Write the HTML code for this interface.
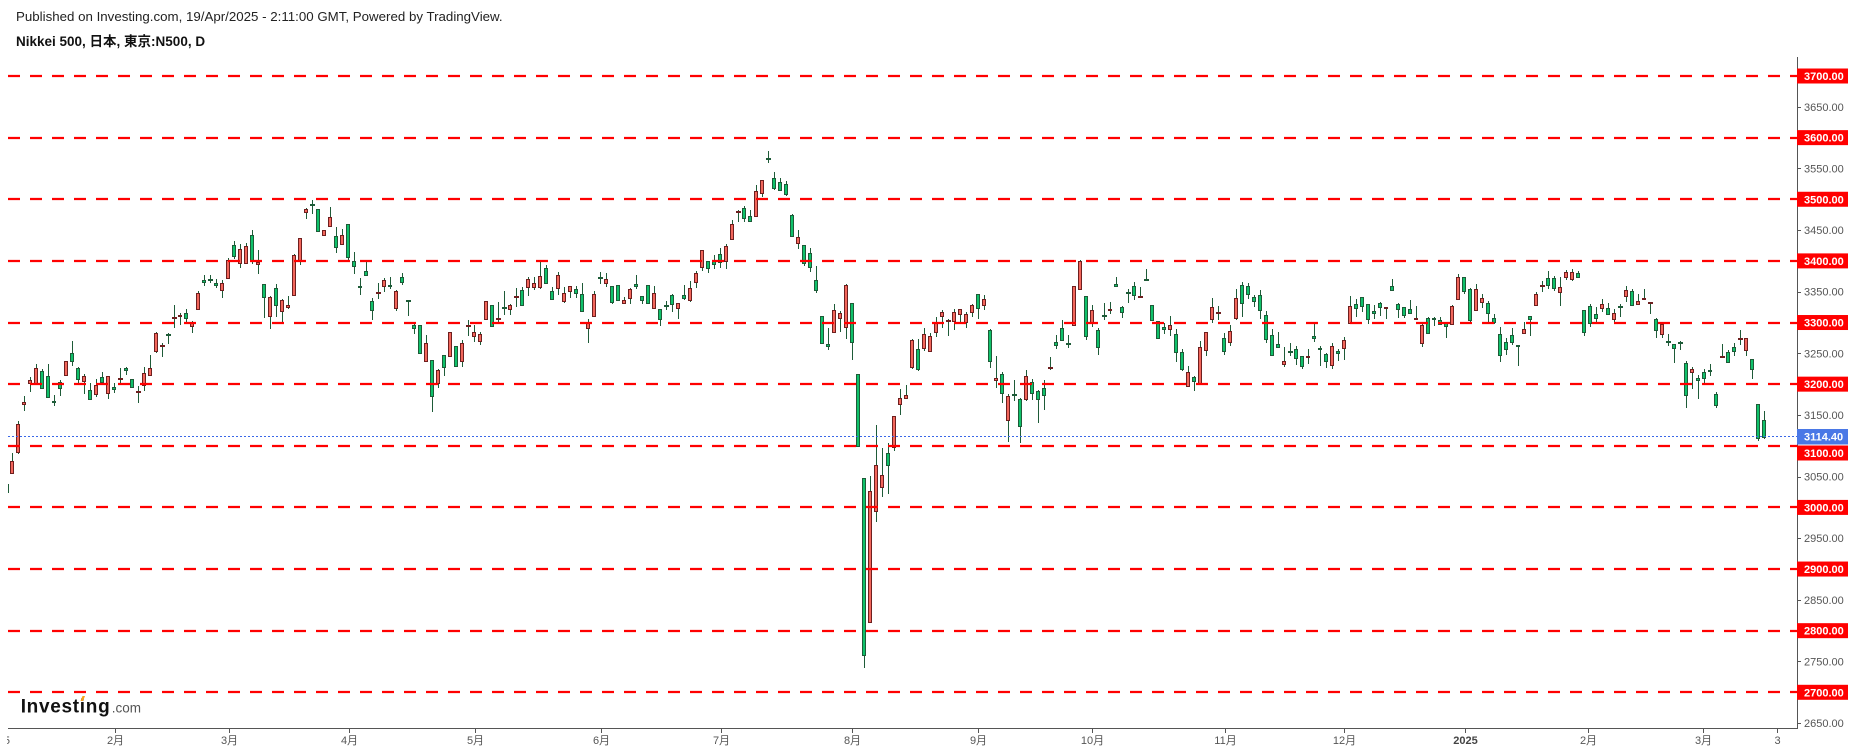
<!DOCTYPE html>
<html>
<head>
<meta charset="utf-8">
<style>
html,body{margin:0;padding:0;background:#fff;}
svg{display:block;}
text{font-family:"Liberation Sans","Noto Sans CJK JP",sans-serif;}
</style>
</head>
<body>
<svg id="s" width="1855" height="753" xmlns="http://www.w3.org/2000/svg">
<defs>
<clipPath id="pane"><rect x="8" y="50" width="1789" height="679"/></clipPath>
<clipPath id="lc"><rect x="7" y="730" width="10" height="20"/></clipPath>
</defs>
<rect width="1855" height="753" fill="#fff"/>
<text x="16" y="21" font-size="13.3" fill="#222">Published on Investing.com, 19/Apr/2025 - 2:11:00 GMT, Powered by TradingView.</text>
<text x="16" y="46" font-size="13.5" font-weight="bold" fill="#111">Nikkei 500, 日本, 東京:N500, D</text>
<g id="c" clip-path="url(#pane)"></g>
<g id="ln"></g>
<g id="ax"></g>
<text x="20.7" y="712.3" font-size="19" font-weight="bold" letter-spacing="0.7" fill="#111">Investing</text>
<polygon points="80.5,701 82.5,696 85,696 83,701" fill="#f7a21b"/>
<text x="111.7" y="712.3" font-size="13.5" fill="#555">.com</text>
<g clip-path="url(#lc)"><text x="10" y="744" font-size="11" fill="#555" text-anchor="end">5</text></g>
</svg>
<script>
const NS='http://www.w3.org/2000/svg';
function el(tag,attrs,parent,text){const e=document.createElementNS(NS,tag);for(const k in attrs)e.setAttribute(k,attrs[k]);if(text!=null)e.textContent=text;parent.appendChild(e);return e;}
const Y=p=>76+(3700-p)*0.6163;

const Z6="25 w 912 938;37 r 844 883 820 883;55 r 733 818 723 822;73 r 667 676 648 692;91 r 601 611 590 635;109 r 565 611 552 611;127 g 574 626 567 626;145 g 589 655 552 655;163 g 663 670 645 677;181 g 606 626 600 648;199 r 544 587 544 587;217 g 520 545 484 557;235 g 565 601 560 612;253 r 589 605 582 641;271 g 631 661 610 661;289 r 616 646 598 650;307 g 592 608 576 612;325 r 587 641 587 656;343 g 622 629 610 638;361 rd 598 564 612;379 g 565 574 561 585;397 g 598 625 598 625;415 rd 637 618 668;433 r 580 619 562 632;451 r 565 587 525 587;469 r 460 515 457 518;487 rd 498 490 530;505 gd 466 460 492;523 rd 414 376 443;541 r 406 412 400 434;559 g 400 416 388 430;577 r 428 440 424 458;595 r 340 391 334 391;613 g 301 310 286 318;631 gd 300 286 308;649 g 310 317 298 323;667 r 310 334 300 353;685 r 241 298 233 298;703 g 196 230 183 236;721 r 208 253 192 263;739 r 199 253 189 253;757 g 166 246 150 252;775 r 247 256 210 281;793 g 313 355 313 413;811 r 352 412 348 446;829 g 325 379 313 412;847 r 361 397 357 428;865 r 376 385 348 388;883 r 226 349 222 349;901 r 175 247 175 254;919 r 88 100 84 116;937 gd 74 60 103;955 g 88 157 88 157";

const Z7="13 r 151 169 151 169;31 r 112 140 82 140;49 g 169 205 142 218;67 r 166 194 148 194;85 g 133 233 133 240;103 g 243 260 216 281;121 g 319 325 294 345;139 g 274 287 240 287;157 g 364 392 355 419;175 rd 340 310 358;193 r 300 322 295 335;211 g 316 322 291 326;229 r 334 386 330 392;247 g 292 308 279 314;265 gd 364 364 407;283 g 436 448 425 463;301 g 436 523 436 523;319 r 490 545 465 545;337 g 541 650 541 695;355 r 571 611 566 623;373 g 526 565 526 587;391 r 457 530 455 530;409 g 499 560 499 560;427 r 490 545 480 560;445 rd 437 420 467;463 r 457 470 436 486;481 r 462 485 457 494;499 r 364 419 364 419;517 g 376 440 376 440;535 rd 418 366 431;553 gd 383 334 405;571 r 376 389 372 404;589 rd 352 324 381;607 g 331 377 322 377;625 r 298 323 292 347;643 r 310 323 292 330;661 r 289 323 246 327;679 g 265 313 255 313;697 g 334 359 320 359;715 r 286 328 277 345;733 r 340 365 321 368;751 r 319 335 319 353;769 g 328 341 319 354;787 g 343 395 309 395;805 r 425 448 418 488;823 r 343 410 334 410;841 gd 295 277 311;859 r 298 311 280 320;877 g 319 368 319 371;895 g 316 362 316 362;913 r 361 373 352 373;931 r 328 358 323 372;949 g 313 322 285 327;967 g 349 362 349 372;985 g 316 373 316 373";

const Z8="43 r 445 492 425 492;61 g 490 524 490 539;79 gd 483 467 493;97 g 451 480 447 498;115 r 474 492 474 520;133 g 451 461 421 464;151 r 431 468 409 471;169 r 387 416 380 430;187 r 320 373 320 380;205 g 352 376 352 385;223 g 347 364 335 374;241 g 332 358 314 371;259 r 309 355 303 374;277 r 245 291 233 291;295 rd 208 203 237;313 g 198 230 192 237;331 g 222 239 203 239;349 r 149 224 131 224;367 r 117 158 117 165;385 gd 54 32 66;403 g 111 141 93 144;421 g 123 149 111 149;439 g 129 159 119 162;457 g 218 283 215 283;475 r 283 303 261 316;493 g 306 361 306 367;511 g 329 373 314 382;529 g 407 437 366 443;547 g 512 593 512 593;565 g 592 602 546 609;583 r 495 561 476 561;601 r 502 521 496 557;619 r 421 547 418 577;637 g 474 590 474 638;655 g 680 892 680 892;673 g 982 1499 982 1532;691 r 1020 1403 976 1403;709 r 945 1081 828 1108;727 r 974 1011 894 1036;745 g 910 948 880 1027;763 r 800 895 800 902;781 r 750 770 723 798;799 r 739 753 710 753;817 r 582 661 577 664;835 g 608 667 578 670;853 r 564 608 546 612;871 r 570 616 561 616;889 r 530 561 515 573;907 r 500 515 494 545;925 rd 525 520 568;943 r 500 529 491 553;961 r 492 509 492 533;979 r 506 532 500 545";

const Z9="37 r 286 310 282 321;55 g 253 298 253 326;73 r 268 287 255 300;91 g 361 457 357 473;109 r 505 512 438 533;127 g 493 553 487 580;145 r 559 634 552 695;163 gd 554 510 572;181 g 568 652 565 698;199 r 499 569 480 572;217 g 517 553 507 570;235 g 544 569 540 638;253 g 535 557 510 599;271 rd 474 441 479;289 g 397 409 375 416;307 g 355 394 330 394;325 gd 401 375 413;343 r 229 349 229 349;361 r 154 241 150 241;379 g 259 382 259 389;397 r 301 343 285 351;415 g 361 415 354 434;433 gd 319 279 329;451 r 298 304 276 311;469 g 223 232 201 232;487 g 292 310 288 323;505 gd 249 236 278;523 g 229 259 215 269;541 rd 260 231 263;559 gd 210 177 212;577 g 286 334 286 334;595 g 334 388 334 388;613 g 351 361 340 371;631 r 346 361 318 377;649 g 373 430 357 455;667 g 427 481 417 484;685 r 487 532 467 532;703 g 502 515 497 542;721 r 411 523 393 523;739 r 367 424 367 437;757 r 292 331 264 338;775 rd 309 288 331;793 g 385 427 369 434;811 r 364 400 345 409;829 r 265 328 237 331;847 g 226 283 216 320;865 g 229 256 220 268;883 g 262 275 254 290;901 g 256 304 240 328;919 g 316 391 304 398;937 g 376 439 357 439;955 g 403 415 366 415;973 r 454 466 411 470";

const Z10="31 gd 427 399 437;49 g 418 448 409 464;67 g 439 472 439 478;85 r 438 445 418 461;103 g 379 386 343 395;121 g 415 421 409 467;139 g 433 455 430 473;157 r 409 469 400 476;175 g 424 431 418 452;193 r 391 418 381 449;211 r 289 343 259 343;229 g 283 296 268 320;247 g 262 292 262 305;265 g 283 331 283 341;283 g 304 313 286 326;301 g 280 295 277 317;319 r 292 298 292 326;337 g 229 244 208 244;355 g 283 301 280 323;373 g 292 319 292 323;391 g 298 313 270 313;409 r 325 331 288 331;427 r 346 403 337 410;445 g 325 373 322 373;463 g 325 331 322 349;481 g 331 346 322 346;499 g 340 352 340 385;517 r 289 346 286 346;535 r 202 271 193 271;553 g 202 247 202 253;571 g 238 334 235 340;589 r 238 304 223 304;607 r 265 280 253 295;625 g 280 313 274 337;643 g 325 340 313 343;661 g 373 439 352 457;679 g 397 421 385 436;697 g 376 400 355 406;715 g 406 412 406 467;733 r 358 373 337 373;751 g 319 331 319 379;769 r 253 289 247 289;787 rd 229 214 247;805 g 205 229 184 238;823 g 205 238 199 244;841 r 232 250 202 289;859 r 187 205 181 211;877 r 187 211 178 214;895 g 190 205 184 205;913 g 301 370 301 379;931 g 289 343 283 352;949 g 313 328 292 343;967 r 283 298 268 307;985 g 295 316 280 316";

const Z11="43 r 190 211 178 216;61 gd 172 163 202;79 r 121 142 109 155;97 g 124 169 118 169;115 r 154 166 133 166;133 r 145 151 118 151;151 rd 160 157 193;169 g 208 244 205 265;187 r 223 256 223 265;205 gd 275 253 289;223 g 283 298 283 340;241 gd 280 272 300;259 g 340 439 334 473;277 r 358 370 352 418;295 g 385 394 376 448;313 g 367 388 358 406;331 g 361 367 343 379;349 g 433 467 427 473;367 rd 320 283 323;385 g 307 340 301 340;403 g 292 307 280 319;421 rd 266 241 284;439 r 265 304 265 319;457 g 328 361 328 388;475 g 463 567 463 574;493 g 511 563 484 566";

const segs=[[0,180,3,3,Z6],[320,180,3,3,Z7],[640,140,3,2.9036,Z8],[960,210,3,3,Z9],[1280,210,3,3,Z10],[1600,250,3,3,Z11]];
const WICK='#1e5b38',RF='#f2665b',RB='#6e1f1f',GF='#0fc16a',GB='#1e5b38';
const cg=document.getElementById('c');
function wick(xi,a,b){const t=Math.round(a),bb=Math.round(b);el('rect',{x:xi,y:t,width:1,height:Math.max(1,bb-t),fill:WICK},cg);}
for(const [ox,oy,fx,fy,str] of segs){
  for(const item of str.split(';')){
    const f=item.trim().split(/\s+/);if(f.length<3)continue;
    const xd=+f[0],t=f[1];
    const xi=Math.round(ox+xd/fx);
    const Yc=v=>oy+v/fy;
    if(t==='w'){wick(xi,Yc(+f[2]),Yc(+f[3]));continue;}
    if(t==='r'||t==='g'){
      const bt=Math.round(Yc(+f[2])),bb=Math.round(Yc(+f[3]));
      wick(xi,Yc(+f[4]),Yc(+f[5]));
      el('rect',{x:xi-1.5,y:bt+0.5,width:3,height:Math.max(1,bb-bt-1),fill:t==='r'?RF:GF,stroke:t==='r'?RB:GB,'stroke-width':1},cg);
    }else{
      const y=Math.round(Yc(+f[2]));
      wick(xi,Yc(+f[3]),Yc(+f[4]));
      el('rect',{x:xi-2,y:y-1,width:5,height:2,fill:t==='rd'?RB:GB},cg);
    }
  }
}
const ln=document.getElementById('ln');
for(let p=2700;p<=3700;p+=100){
  const y=Math.round(Y(p));
  el('line',{x1:8,x2:1797,y1:y,y2:y,stroke:'#ff0000','stroke-width':2.2,'stroke-dasharray':'12 10'},ln);
}
el('line',{x1:8,x2:1797,y1:436.5,y2:436.5,stroke:'#3a68e8','stroke-width':1,'stroke-dasharray':'2 2'},ln);
const ax=document.getElementById('ax');
el('line',{x1:1797.5,x2:1797.5,y1:57,y2:729,stroke:'#555','stroke-width':1},ax);
el('line',{x1:8,x2:1798,y1:728.5,y2:728.5,stroke:'#555','stroke-width':1},ax);
for(let p=2650;p<=3700;p+=50){
  const y=Y(p);
  el('line',{x1:1797,x2:1801,y1:Math.round(y)+0.5,y2:Math.round(y)+0.5,stroke:'#555','stroke-width':1},ax);
  if(p%100===0){
    let top=y-7.5;
    if(p===3100) top=445.5;
    el('rect',{x:1797,y:top,width:51,height:15,fill:'#ff0000'},ax);
    el('text',{x:1804,y:top+11.5,'font-size':11,'font-weight':'bold',fill:'#fff'},ax,p.toFixed(2));
  }else{
    el('text',{x:1804,y:y+4,'font-size':11,fill:'#555'},ax,p.toFixed(2));
  }
}
el('rect',{x:1797,y:429,width:51,height:15.5,fill:'#4a78e6'},ax);
el('text',{x:1804,y:440.7,'font-size':11,'font-weight':'bold',fill:'#fff'},ax,'3114.40');
const tl=[[115.5,'2月'],[229.5,'3月'],[349.5,'4月'],[475.5,'5月'],[601.5,'6月'],[721.5,'7月'],[852.5,'8月'],[978.5,'9月'],[1092.5,'10月'],[1225.5,'11月'],[1344.5,'12月'],[1465.5,'2025',1],[1588.5,'2月'],[1703.5,'3月'],[1777.5,'3']];
for(const [x,s,b] of tl){
  el('line',{x1:x,x2:x,y1:729,y2:733,stroke:'#555','stroke-width':1},ax);
  const a={x:x,y:744,'font-size':11,fill:b?'#444':'#555','text-anchor':'middle'};
  if(b)a['font-weight']='bold';
  el('text',a,ax,s);
}
</script>
</body>
</html>
